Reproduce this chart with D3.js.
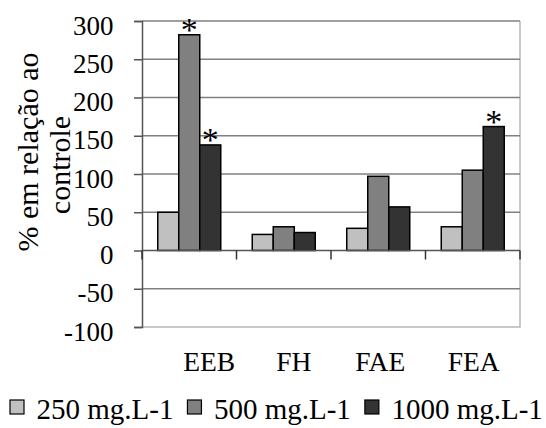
<!DOCTYPE html>
<html>
<head>
<meta charset="utf-8">
<script src="https://cdn.jsdelivr.net/npm/d3@7"></script>
<style>
  html, body { margin: 0; padding: 0; background: #fff; }
</style>
</head>
<body>
<svg id="chart" width="546" height="428" font-family="Liberation Serif"></svg>
<script>
// Fractions and their response (% relative to control) per concentration
const categories = ["EEB", "FH", "FAE", "FEA"];
const seriesNames = ["250 mg.L-1", "500 mg.L-1", "1000 mg.L-1"];
const values250 = [50, 21, 29, 31];
const values500 = [282, 31, 97, 105];
const values1000 = [138, 23.5, 57, 162];
// significant differences (category, series index)
const significant = [["EEB", 1], ["EEB", 2], ["FEA", 2]];
const yTicks = [-100, -50, 0, 50, 100, 150, 200, 250, 300];
const yTitleLines = ["% em relação ao", "controle"];

const seriesValues = [values250, values500, values1000];
const fills = ["#c0c0c0", "#808080", "#333333"];
const FONT = "Liberation Serif";

const svg = d3.select("#chart");
svg.append("rect").attr("width", 546).attr("height", 428).attr("fill", "#fff");

const plotLeft = 142, plotRight = 520, plotTop = 21, plotBottom = 327;

const x = d3.scaleBand().domain(categories).range([plotLeft, plotRight]).padding(0);
const bw = x.bandwidth();
const gap = bw * 0.75 / 4.5;
const x1 = d3.scaleBand().domain(d3.range(seriesNames.length)).range([gap, bw - gap]).padding(0);
const y = d3.scaleLinear().domain([-100, 300]).range([plotBottom, plotTop]);

// plot area frame (right and bottom edges)
svg.append("path")
  .attr("d", `M${plotRight},${plotTop}V${plotBottom}H${plotLeft}`)
  .attr("fill", "none").attr("stroke", "#b8b8b8").attr("stroke-width", 1.5);

// horizontal gridlines
svg.append("g").selectAll("line")
  .data(yTicks.filter(t => t !== 0 && t !== -100))
  .join("line")
  .attr("x1", plotLeft).attr("x2", plotRight)
  .attr("y1", d => y(d)).attr("y2", d => y(d))
  .attr("stroke", "#808080").attr("stroke-width", 1.5);

// y axis
const yAxis = svg.append("g")
  .attr("transform", `translate(${plotLeft},0)`)
  .call(d3.axisLeft(y).tickValues(yTicks).tickSize(8).tickPadding(20.5).tickFormat(d => String(d)));
yAxis.attr("font-family", FONT).attr("font-size", 27);
yAxis.select(".domain").attr("stroke", "#555").attr("stroke-width", 1.5);
yAxis.selectAll(".tick line").attr("stroke", "#555").attr("stroke-width", 1.5);
yAxis.selectAll(".tick text")
  .attr("font-family", FONT).attr("font-size", 27)
  .style("font-family", FONT)
  .attr("dy", null).attr("y", 13).attr("fill", "#000");

// bars
const bars = svg.append("g");
seriesValues.forEach((vals, si) => {
  bars.selectAll(null)
    .data(categories.map((c, i) => ({ c, v: vals[i] })))
    .join("rect")
    .attr("x", d => x(d.c) + x1(si))
    .attr("width", x1.bandwidth())
    .attr("y", d => y(Math.max(0, d.v)))
    .attr("height", d => Math.abs(y(d.v) - y(0)))
    .attr("fill", fills[si])
    .attr("stroke", "#000").attr("stroke-width", 1.5);
});

// category axis at zero
svg.append("line")
  .attr("x1", plotLeft).attr("x2", plotRight).attr("y1", y(0)).attr("y2", y(0))
  .attr("stroke", "#555").attr("stroke-width", 1.5);
svg.append("g").selectAll("line")
  .data(categories.map(c => x(c) + bw).concat([plotLeft]))
  .join("line")
  .attr("x1", d => d).attr("x2", d => d)
  .attr("y1", y(0)).attr("y2", y(0) + 9)
  .attr("stroke", "#333").attr("stroke-width", 1.5);

// category labels
const labelShift = [20, 10, 2, 1];
svg.append("g").selectAll("text")
  .data(categories)
  .join("text")
  .attr("x", (d, i) => x(d) + bw / 2 + labelShift[i])
  .attr("y", 371)
  .attr("text-anchor", "middle")
  .attr("font-family", FONT).attr("font-size", 27.5)
  .style("font-family", FONT)
  .text(d => d);

// significance marks
svg.append("g").selectAll("text")
  .data(significant)
  .join("text")
  .attr("x", d => x(d[0]) + x1(d[1]) + x1.bandwidth() / 2)
  .attr("y", d => y(seriesValues[d[1]][categories.indexOf(d[0])]) + 6)
  .attr("text-anchor", "middle")
  .attr("font-family", FONT).attr("font-size", 34)
  .style("font-family", FONT)
  .text("*");

// y axis title (two centred lines)
const yt = svg.append("text")
  .attr("transform", "translate(0,152) rotate(-90)")
  .attr("text-anchor", "middle")
  .attr("font-family", FONT).attr("font-size", 30)
  .style("font-family", FONT);
yTitleLines.forEach((t, i) => {
  yt.append("tspan").attr("x", -13 * i).attr("y", 38 + i * 32).text(t);
});

// legend
const legend = svg.append("g");
let lx = 10;
seriesNames.forEach((name, i) => {
  legend.append("rect")
    .attr("x", lx).attr("y", 400).attr("width", 14).attr("height", 14)
    .attr("fill", fills[i]).attr("stroke", "#000").attr("stroke-width", 1.2);
  const t = legend.append("text")
    .attr("x", lx + 26.5).attr("y", 419)
    .attr("font-family", FONT).attr("font-size", 29)
    .style("font-family", FONT)
    .text(name);
  lx = lx + 26.5 + t.node().getComputedTextLength() + 14;
});
</script>
</body>
</html>
